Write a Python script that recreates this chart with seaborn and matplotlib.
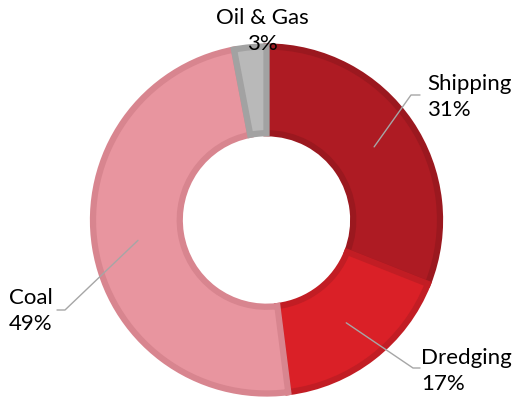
import numpy as np
import matplotlib
matplotlib.use("Agg")
import matplotlib.pyplot as plt
import seaborn as sns

# datos del gráfico
sectores = ["Shipping", "Dredging", "Coal", "Oil & Gas"]
porcentajes = [31, 17, 49, 3]
colores = ["#AE1B23", "#DA2027", "#E8959F", "#B9B9B9"]
bordes = ["#9B181F", "#C21D24", "#D8858F", "#A2A2A2"]

sns.set_style("white")
plt.rcParams["font.family"] = ["Lato", "DejaVu Sans"]

fig = plt.figure(figsize=(5.12, 3.98), dpi=100)
ax = fig.add_axes([0, 0, 1, 1])

# centro y radio del anillo en píxeles de la imagen
cx, cy, r_px = 266.5, 220, 173.5


def px(x, y):
    return (x - cx) / r_px, (cy - y) / r_px


wedges, _ = ax.pie(
    porcentajes,
    colors=colores,
    startangle=90,
    counterclock=False,
    radius=1.0,
    wedgeprops=dict(width=0.5, linewidth=4.5, joinstyle="miter"),
)
for w, b in zip(wedges, bordes):
    w.set_edgecolor(b)

ax.set_aspect("auto")
ax.set_xlim(px(0, 0)[0], px(512, 0)[0])
ax.set_ylim(px(0, 398)[1], px(0, 0)[1])
ax.axis("off")

# etiquetas con líneas guía
gris = "#A6A6A6"
etiquetas = {
    "Shipping": dict(codo=(411, 95), fin=(420, 95), texto=(427, 97)),
    "Dredging": dict(codo=(413, 368), fin=(420, 368), texto=(421, 371)),
    "Coal": dict(codo=(65, 310), fin=(57, 310), texto=(9, 311)),
}

for w, nombre, pct in zip(wedges, sectores, porcentajes):
    texto = f"{nombre}\n{pct}%"
    if nombre not in etiquetas:
        x, y = px(262, 31)
        ax.text(x, y, texto, ha="center", va="center", fontsize=16,
                linespacing=1.35, color="black")
        continue
    ang = np.deg2rad((w.theta1 + w.theta2) / 2)
    r = 0.75
    x0, y0 = r * np.cos(ang), r * np.sin(ang)
    e = etiquetas[nombre]
    x1, y1 = px(*e["codo"])
    x2, y2 = px(*e["fin"])
    ax.plot([x0, x1, x2], [y0, y1, y2], color=gris, lw=1)
    tx, ty = px(*e["texto"])
    ax.text(tx, ty, texto, ha="left", va="center", fontsize=16,
            linespacing=1.35, color="black")

fig.savefig("out.png", dpi=100)
